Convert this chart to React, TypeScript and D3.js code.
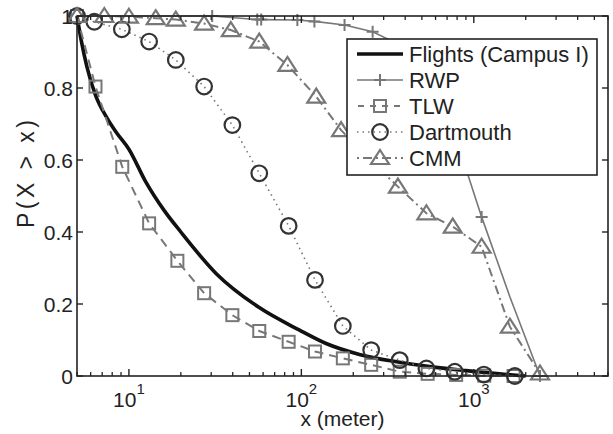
import React from "react";
import * as d3 from "d3";

const flightsX = [5, 5.3, 5.7, 6.4, 7.5, 8.5, 10, 12.5, 16, 20, 32, 57, 97, 138, 217, 350, 555, 900, 1500, 2000];
const flightsY = [1.0, 0.93, 0.86, 0.78, 0.715, 0.675, 0.63, 0.54, 0.46, 0.4, 0.285, 0.19, 0.128, 0.091, 0.06, 0.04, 0.026, 0.015, 0.005, 0.0];

const rwpX = [5, 30.4, 55.5, 58.5, 94.8, 119, 178, 259, 372, 550, 750, 923, 1110, 1618, 2420];
const rwpY = [1.0, 1.0, 0.99, 0.99, 0.989, 0.985, 0.975, 0.956, 0.92, 0.8, 0.67, 0.56, 0.442, 0.22, 0.0];
const rwpMarked = [false, true, true, true, true, true, true, true, false, false, false, false, true, false, true];

const tlwX = [5, 6.4, 9.15, 13.1, 19.1, 27.3, 39.8, 57, 84.4, 120, 174, 254, 372, 540, 790, 1150, 1700];
const tlwY = [1.0, 0.804, 0.581, 0.424, 0.32, 0.23, 0.169, 0.125, 0.095, 0.068, 0.049, 0.031, 0.012, 0.006, 0.003, 0.001, 0.0];

const dartX = [5, 6.3, 9.1, 13.1, 18.7, 27.3, 39.8, 57, 84.4, 120, 174, 254, 372, 531, 776, 1143, 1730];
const dartY = [1.0, 0.984, 0.963, 0.929, 0.878, 0.804, 0.697, 0.563, 0.417, 0.267, 0.139, 0.072, 0.044, 0.021, 0.012, 0.004, 0.0];

const cmmX = [5, 7.2, 10, 14.3, 18.7, 27.3, 39, 57, 83, 122, 170, 250, 363, 531, 755, 1110, 1618, 2420];
const cmmY = [1.0, 1.0, 0.998, 0.994, 0.99, 0.979, 0.961, 0.929, 0.864, 0.776, 0.683, 0.6, 0.526, 0.452, 0.415, 0.359, 0.137, 0.007];

const yTicks = [0, 0.2, 0.4, 0.6, 0.8, 1];
const yTickLabels = ["0", "0.2", "0.4", "0.6", "0.8", "1"];
const xMajor = [10, 100, 1000];
const xMajorExp = ["1", "2", "3"];
const legendLabels = ["Flights (Campus I)", "RWP", "TLW", "Dartmouth", "CMM"];

const W = 613, H = 434;
const L = 77, R = 608, T = 16, B = 376;
const FONT = "'Liberation Sans', Arial, Helvetica, sans-serif";
const GRAY = "#777";
const DARK = "#333";

const x = d3.scaleLog().domain([5, 6000]).range([L, R]);
const y = d3.scaleLinear().domain([0, 1]).range([B, T]);

const toPts = (xs: number[], ys: number[]) => xs.map((v, i) => [v, ys[i]] as [number, number]);
const line = d3.line<[number, number]>().x(d => x(d[0])).y(d => y(d[1]));
const smooth = d3.line<[number, number]>().x(d => x(d[0])).y(d => y(d[1])).curve(d3.curveMonotoneX);

function Square({ cx, cy }: { cx: number; cy: number }) {
  return <rect x={cx - 6} y={cy - 6} width={12} height={12} fill="none" stroke={GRAY} strokeWidth={2} />;
}
function Circle({ cx, cy }: { cx: number; cy: number }) {
  return <circle cx={cx} cy={cy} r={7.8} fill="none" stroke={DARK} strokeWidth={2.2} />;
}
function Tri({ cx, cy }: { cx: number; cy: number }) {
  const p = `M${cx},${cy - 8} L${cx + 9},${cy + 6} L${cx - 9},${cy + 6} Z`;
  return <path d={p} fill="none" stroke={GRAY} strokeWidth={2.2} />;
}
function Plus({ cx, cy }: { cx: number; cy: number }) {
  return <path d={`M${cx - 6},${cy} H${cx + 6} M${cx},${cy - 6} V${cy + 6}`} stroke={GRAY} strokeWidth={2} />;
}

export default function App() {
  const minor: number[] = [];
  for (let e = 0; e <= 3; e++) {
    for (let m = 1; m <= 9; m++) {
      const v = m * Math.pow(10, e);
      if (v >= 5 && v <= 6000 && !xMajor.includes(v)) minor.push(v);
    }
  }
  const flights = toPts(flightsX, flightsY);
  const rwp = toPts(rwpX, rwpY);
  const tlw = toPts(tlwX, tlwY);
  const dart = toPts(dartX, dartY);
  const cmm = toPts(cmmX, cmmY);

  const legY = [54, 80, 106, 132, 158];
  const lx0 = 357, lx1 = 403, lmx = 380;

  return (
    <svg width={W} height={H} style={{ position: "absolute", left: 0, top: 0, background: "#fff" }} fontFamily={FONT}>
      <rect x={0} y={0} width={W} height={H} fill="#fff" />
      {/* series */}
      <path d={smooth(flights) || ""} fill="none" stroke="#111" strokeWidth={3.6} />
      <path d={line(rwp) || ""} fill="none" stroke={GRAY} strokeWidth={1.6} />
      {rwp.map((d, i) => rwpMarked[i] ? <Plus key={"p" + i} cx={x(d[0])} cy={y(d[1])} /> : null)}
      <path d={line(tlw) || ""} fill="none" stroke={GRAY} strokeWidth={2} strokeDasharray="9,6" />
      {tlw.map((d, i) => <Square key={"s" + i} cx={x(d[0])} cy={y(d[1])} />)}
      <path d={line(dart) || ""} fill="none" stroke="#777" strokeWidth={1.6} strokeDasharray="1.5,4" />
      {dart.map((d, i) => <Circle key={"c" + i} cx={x(d[0])} cy={y(d[1])} />)}
      <path d={line(cmm) || ""} fill="none" stroke={GRAY} strokeWidth={2} strokeDasharray="9,4,2,4" />
      {cmm.map((d, i) => <Tri key={"t" + i} cx={x(d[0])} cy={y(d[1])} />)}

      {/* axes box */}
      <rect x={L} y={T} width={R - L} height={B - T} fill="none" stroke="#222" strokeWidth={1.6} />
      {yTicks.map((t, i) => (
        <g key={"yt" + i}>
          <line x1={L} x2={L + 6} y1={y(t)} y2={y(t)} stroke="#222" strokeWidth={1.4} />
          <line x1={R} x2={R - 6} y1={y(t)} y2={y(t)} stroke="#222" strokeWidth={1.4} />
          <text x={L - 4} y={y(t)} dy="0.36em" textAnchor="end" fontSize={21} fill="#222">{yTickLabels[i]}</text>
        </g>
      ))}
      {minor.map((v, i) => (
        <g key={"mn" + i}>
          <line x1={x(v)} x2={x(v)} y1={B} y2={B - 4} stroke="#222" strokeWidth={1.3} />
          <line x1={x(v)} x2={x(v)} y1={T} y2={T + 4} stroke="#222" strokeWidth={1.3} />
        </g>
      ))}
      {xMajor.map((v, i) => (
        <g key={"mj" + i}>
          <line x1={x(v)} x2={x(v)} y1={B} y2={B - 7} stroke="#222" strokeWidth={1.4} />
          <line x1={x(v)} x2={x(v)} y1={T} y2={T + 7} stroke="#222" strokeWidth={1.4} />
          <text x={x(v)} y={407} textAnchor="middle" fontSize={21} fill="#222">
            10<tspan dy={-13} fontSize={15}>{xMajorExp[i]}</tspan>
          </text>
        </g>
      ))}
      <text x={(L + R) / 2} y={426} textAnchor="middle" fontSize={21} fill="#222">x (meter)</text>
      <text transform={`translate(34,174) rotate(-90)`} textAnchor="middle" fontSize={23} fill="#222"
        textLength={108} lengthAdjust="spacing">P(X &gt; x)</text>

      {/* legend */}
      <rect x={347} y={39} width={250} height={136} fill="#fff" stroke="#222" strokeWidth={1.6} />
      <line x1={lx0} x2={lx1} y1={legY[0]} y2={legY[0]} stroke="#111" strokeWidth={3.6} />
      <line x1={lx0} x2={lx1} y1={legY[1]} y2={legY[1]} stroke={GRAY} strokeWidth={1.6} />
      <Plus cx={lmx} cy={legY[1]} />
      <line x1={lx0} x2={lx1} y1={legY[2]} y2={legY[2]} stroke={GRAY} strokeWidth={2} strokeDasharray="6,6" strokeDashoffset={-1} />
      <Square cx={lmx} cy={legY[2]} />
      <line x1={lx0} x2={lx1} y1={legY[3]} y2={legY[3]} stroke="#777" strokeWidth={1.6} strokeDasharray="1.5,4" />
      <Circle cx={lmx} cy={legY[3]} />
      <line x1={lx0} x2={lx1} y1={legY[4]} y2={legY[4]} stroke={GRAY} strokeWidth={2} strokeDasharray="2,4,9,4" />
      <Tri cx={lmx} cy={legY[4]} />
      {legendLabels.map((s, i) => (
        <text key={"lg" + i} x={409} y={legY[i]} dy="0.36em" fontSize={22} fill="#222">{s}</text>
      ))}
    </svg>
  );
}
